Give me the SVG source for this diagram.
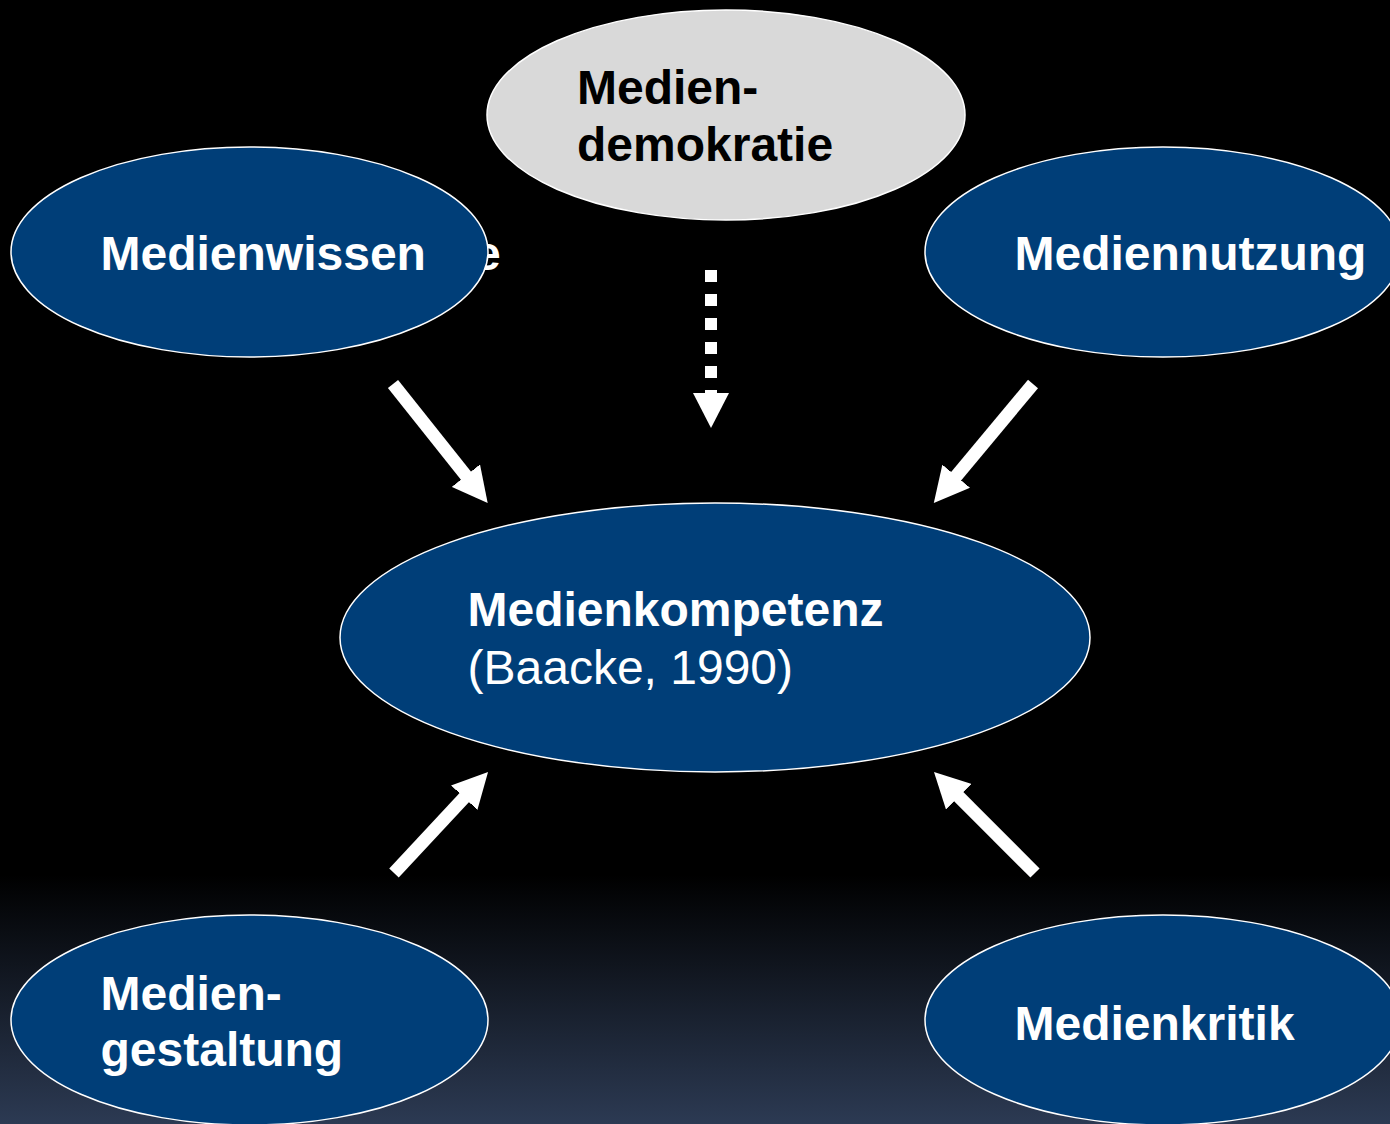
<svg xmlns="http://www.w3.org/2000/svg" width="1390" height="1124" viewBox="0 0 1390 1124">
<style>
.node{fill:#003e78;stroke:#ffffff;stroke-width:1.5}
.grey{fill:#d9d9d9;stroke:#ffffff;stroke-width:1.5}
.lbl{font-family:"Liberation Sans",Arial,sans-serif;font-size:48px;font-weight:bold;fill:#ffffff}
.dark{fill:#000000}
.reg{font-weight:normal}
.conn{stroke:#ffffff;stroke-width:13;fill:none}
</style>
<defs>
<linearGradient id="bg" x1="0" y1="875" x2="0" y2="1124" gradientUnits="userSpaceOnUse">
<stop offset="0" stop-color="#000000"/>
<stop offset="1" stop-color="#2c3a53"/>
</linearGradient>
<marker id="ah" markerUnits="userSpaceOnUse" markerWidth="36" markerHeight="36" viewBox="0 0 36 36" refX="5" refY="18" orient="auto">
<path d="M0,0 L35,18 L0,36 z" fill="#ffffff"/>
</marker>
</defs>
<rect x="0" y="0" width="1390" height="1124" fill="url(#bg)"/>
<text class="lbl" x="474" y="270">e</text>
<g id="connectors">
<line class="conn" x1="393" y1="384" x2="469" y2="479.5" marker-end="url(#ah)"/>
<line class="conn" x1="1033" y1="384" x2="953" y2="480" marker-end="url(#ah)"/>
<line class="conn" x1="394" y1="873" x2="467.6" y2="794" marker-end="url(#ah)"/>
<line class="conn" x1="1035" y1="873" x2="955.2" y2="793.2" marker-end="url(#ah)"/>
<line x1="711" y1="270" x2="711" y2="394" stroke="#ffffff" stroke-width="12" stroke-dasharray="12 12"/>
<polygon points="693,393 729,393 711,428" fill="#ffffff"/>
</g>
<g id="mediendemokratie">
<ellipse class="grey" cx="726" cy="115" rx="239" ry="105"/>
<text class="lbl dark" x="577" y="104">Medien-</text>
<text class="lbl dark" x="577" y="161">demokratie</text>
</g>
<g id="medienwissen">
<ellipse class="node" cx="249.5" cy="252" rx="238.5" ry="105"/>
<text class="lbl" x="100.5" y="270">Medienwissen</text>
</g>
<g id="mediennutzung">
<ellipse class="node" cx="1163" cy="252" rx="238" ry="105"/>
<text class="lbl" x="1014.5" y="270">Mediennutzung</text>
</g>
<g id="medienkompetenz">
<ellipse class="node" cx="715" cy="637.5" rx="375" ry="134.5"/>
<text class="lbl" x="467.5" y="626">Medienkompetenz</text>
<text class="lbl reg" x="467.5" y="684">(Baacke, 1990)</text>
</g>
<g id="mediengestaltung">
<ellipse class="node" cx="249.5" cy="1020" rx="238.5" ry="105"/>
<text class="lbl" x="100.5" y="1010">Medien-</text>
<text class="lbl" x="100.5" y="1066">gestaltung</text>
</g>
<g id="medienkritik">
<ellipse class="node" cx="1163" cy="1020" rx="238" ry="105"/>
<text class="lbl" x="1014.5" y="1040">Medienkritik</text>
</g>
</svg>
